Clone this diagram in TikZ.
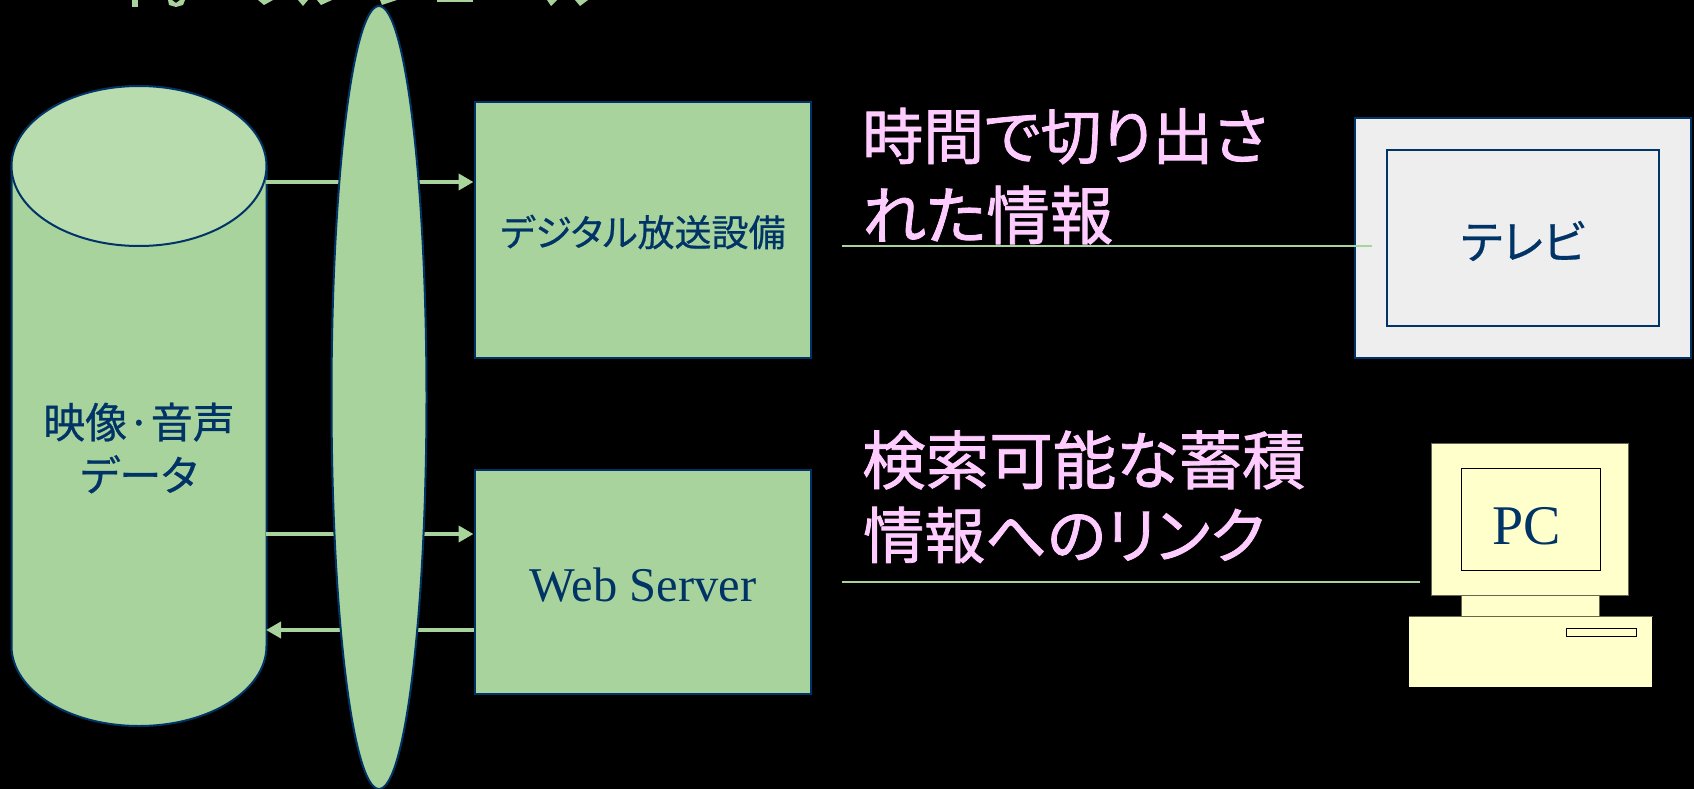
\documentclass[tikz,border=0pt]{standalone}
\usepackage{fontspec}
\setmainfont{Liberation Serif}
\newfontfamily\cjkbold[RawFeature=+palt,FakeBold=0.6]{Noto Sans CJK JP}
\newfontfamily\cjkheavy[RawFeature=+palt,FakeBold=1.3]{Noto Sans CJK JP}
\usetikzlibrary{arrows.meta,shapes.geometric}
\definecolor{gr}{HTML}{A9D39D}
\definecolor{grl}{HTML}{B9DCAF}
\definecolor{nv}{HTML}{003366}
\definecolor{pk}{HTML}{FFCCFF}
\definecolor{yl}{HTML}{FFFFCC}
\definecolor{gy}{HTML}{EEEEEE}
\definecolor{ol}{HTML}{66664F}
\tikzset{x=1pt,y=-1pt,
 box/.style={draw=nv,fill=gr,line width=2pt,minimum width=336pt,inner sep=0pt},
 lbl/.style={text=nv,font=\cjkbold\fontsize{37}{47}\selectfont,align=center},
 big/.style={text=pk,anchor=west,inner sep=0pt},
 conn/.style={draw=gr,line width=2pt},
 arr/.style={draw=gr,line width=4pt,-{Triangle[length=15pt,width=16pt]}},
 yb/.style={fill=yl,draw=ol,line width=1pt,inner sep=0pt},
 frag/.style={fill=gr,draw=none}}
\begin{document}
\begin{tikzpicture}
\useasboundingbox[fill=black] (0,0) rectangle (1694,789);
% clipped title fragments
\fill[frag] (132,0) rectangle (138,7);
\fill[frag] (168,0) -- (172,0) -- (176,3) -- (180,0) -- (185,0) -- (183,5) -- (176,7) -- (169,5) -- cycle;
\fill[frag] (258,0) -- (273,0) -- (264,5) -- cycle;
\fill[frag] (298,0) -- (308,0) -- (303,6) -- cycle;
\fill[frag] (317,0) -- (332,0) -- (321,5) -- cycle;
\fill[frag] (380,0) -- (397,0) -- (382,5) -- cycle;
\fill[frag] (437,0) rectangle (473,2);
\fill[frag] (547,0) -- (557,0) -- (551,6) -- cycle;
\fill[frag] (575,0) -- (588,0) -- (580,6) -- cycle;
\coordinate (t1) at (842,246);\coordinate (t2) at (1372,246);
\coordinate (p1) at (842,582);\coordinate (p2) at (1420,582);
\coordinate (c1) at (266,182);\coordinate (c2) at (266,534);\coordinate (c3) at (266,630);
% cylinder
\path[draw=nv,fill=gr,line width=2pt] (11.5,166) -- (11.5,646) arc[start angle=180,end angle=0,x radius=127.5,y radius=80] -- (266.5,166) -- cycle;
\path[draw=nv,fill=grl,line width=2pt] (139,166) ellipse[x radius=127.5,y radius=80];
\node[lbl,font=\cjkbold\fontsize{42}{53}\selectfont] (db) at (139,448) {映像·音声\\データ};
\node[box,minimum height=256pt] (dt) at (642.5,230) {};
\node[lbl] at (643,232) {デジタル放送設備};
\node[box,minimum height=224pt] (ws) at (642.5,582) {};
\node[text=nv,font=\fontsize{48.5}{50}\selectfont] at (643,585) {Web Server};
\draw[arr] (c1) -- (dt.west |- c1);
\draw[arr] (c2) -- (ws.west |- c2);
\draw[arr] (ws.west |- c3) -- (c3);
\node[ellipse,draw=nv,fill=gr,line width=2pt,minimum width=95pt,minimum height=783pt,inner sep=0pt] (bus) at (379,397.5) {};
\node[big,font=\cjkheavy\fontsize{61}{72}\selectfont] at (862,136) {時間で切り出さ};
\node[big,font=\cjkheavy\fontsize{63.5}{72}\selectfont] at (862,215) {れた情報};
\node[big,font=\cjkheavy\fontsize{63.5}{72}\selectfont] at (862,460) {検索可能な蓄積};
\node[big,font=\cjkheavy\fontsize{61}{72}\selectfont] at (863,535) {情報へのリンク};
% TV
\node[draw=nv,fill=gy,line width=2pt,minimum width=336pt,minimum height=240pt,inner sep=0pt] (tv) at (1523,238) {};
\node[draw=nv,fill=gy,line width=2pt,minimum width=272pt,minimum height=176pt,inner sep=0pt] (sc) at (1523,238) {};
\node[lbl,font=\cjkbold\fontsize{46}{48}\selectfont] at (1523,241) {テレビ};
\draw[conn] (t1) -- (t2);
\draw[conn] (p1) -- (p2);
% PC
\node[yb,minimum width=197pt,minimum height=152pt] (mon) at (1530,519) {};
\node[yb,minimum width=138pt,minimum height=22pt] (neck) at (1530,606) {};
\node[yb,draw=none,minimum width=243pt,minimum height=70pt] (base) at (1530.5,652) {};
\draw[ol,line width=1pt] (base.north west) -- (base.north east);
\node[draw=black,fill=yl,line width=1pt,minimum width=139pt,minimum height=102pt,inner sep=0pt] (scr) at (1530.5,519) {};
\node[text=nv,font=\fontsize{56}{60}\selectfont] (pclabel) at (1527,526) {PC};
\node[draw=black,fill=yl,line width=1pt,minimum width=70pt,minimum height=8pt,inner sep=0pt] (slot) at (1601,632) {};
\end{tikzpicture}
\end{document}
